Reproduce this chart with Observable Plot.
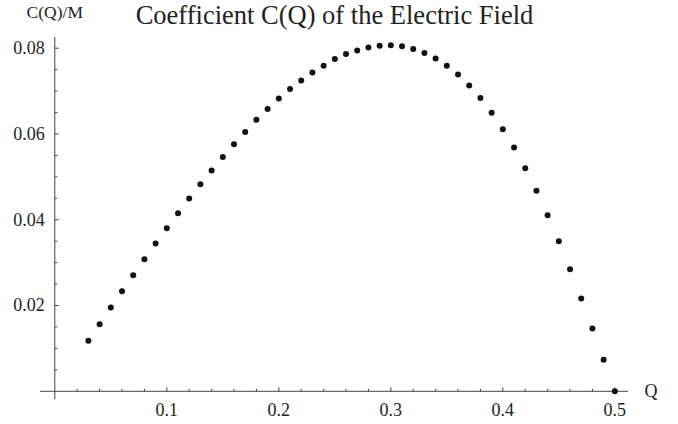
<!DOCTYPE html>
<html><head><meta charset="utf-8">
<script src="https://cdn.jsdelivr.net/npm/d3@7"></script>
<script src="https://cdn.jsdelivr.net/npm/@observablehq/plot@0.6"></script>
<style>
body{margin:0;background:#fff}
svg text{font-family:"Liberation Serif","Times New Roman",serif !important;font-variant:normal !important}
</style>
</head><body><div id="chart"></div>
<script>
const q = [0.03,0.04,0.05,0.06,0.07,0.08,0.09,0.10,0.11,0.12,0.13,0.14,0.15,0.16,0.17,0.18,0.19,0.20,0.21,0.22,0.23,0.24,0.25,0.26,0.27,0.28,0.29,0.30,0.31,0.32,0.33,0.34,0.35,0.36,0.37,0.38,0.39,0.40,0.41,0.42,0.43,0.44,0.45,0.46,0.47,0.48,0.49,0.50];
const c = [0.01177,0.01564,0.01953,0.02333,0.02707,0.03080,0.03445,0.03803,0.04152,0.04494,0.04828,0.05147,0.05466,0.05760,0.06049,0.06330,0.06580,0.06825,0.07051,0.07245,0.07431,0.07594,0.07750,0.07867,0.07944,0.08014,0.08060,0.08068,0.08044,0.07984,0.07890,0.07758,0.07594,0.07385,0.07128,0.06841,0.06495,0.06110,0.05683,0.05200,0.04674,0.04105,0.03499,0.02846,0.02163,0.01464,0.00734,0.00000];
const xMajor = [0.1,0.2,0.3,0.4,0.5];
const xMinor = [0.02,0.04,0.06,0.08,0.12,0.14,0.16,0.18,0.22,0.24,0.26,0.28,0.32,0.34,0.36,0.38,0.42,0.44,0.46,0.48];
const yMajor = [0.02,0.04,0.06,0.08];
const yMinor = [0.005,0.01,0.015,0.025,0.03,0.035,0.045,0.05,0.055,0.065,0.07,0.075];
const title = "Coefficient C(Q) of the Electric Field";
const yLabel = "C(Q)/M";
const xLabel = "Q";

const points = q.map((v, i) => ({q: v, c: c[i]}));
const seg = (dx, dy) => ({draw(ctx) { ctx.moveTo(0, 0); ctx.lineTo(dx, dy); }});
const axisColor = "#444";
const font = "Liberation Serif";
const txt = {fill: "#222", fontFamily: font};

const chart = Plot.plot({
  width: 678,
  height: 424,
  marginLeft: 40,
  marginRight: 50,
  marginTop: 37,
  marginBottom: 25,
  style: {fontFamily: font, background: "#fff", color: "#222"},
  x: {domain: [-0.01277, 0.5122], axis: null},
  y: {domain: [-0.00191, 0.0825], axis: null},
  marks: [
    Plot.ruleX([0], {stroke: axisColor, strokeWidth: 1}),
    Plot.ruleY([0], {stroke: axisColor, strokeWidth: 1}),
    Plot.dot(xMajor, {x: d => d, y: 0, symbol: seg(0, -4), fill: "none", stroke: axisColor, strokeWidth: 1}),
    Plot.dot(xMinor, {x: d => d, y: 0, symbol: seg(0, -2.5), fill: "none", stroke: axisColor, strokeWidth: 1}),
    Plot.dot(yMajor, {x: 0, y: d => d, symbol: seg(4, 0), fill: "none", stroke: axisColor, strokeWidth: 1}),
    Plot.dot(yMinor, {x: 0, y: d => d, symbol: seg(2.5, 0), fill: "none", stroke: axisColor, strokeWidth: 1}),
    Plot.text(xMajor, {x: d => d, y: 0, text: d => String(d), dy: 19, fontSize: 18, lineAnchor: "middle", ...txt}),
    Plot.text(yMajor, {x: 0, y: d => d, text: d => String(d), dx: -10, textAnchor: "end", fontSize: 18, lineAnchor: "middle", ...txt}),
    Plot.dot(points, {x: "q", y: "c", r: 3, fill: "#111", stroke: "none"}),
    Plot.text([title], {frameAnchor: "top", lineAnchor: "bottom", dy: -13.5, fontSize: 26.5, ...txt}),
    Plot.text([yLabel], {x: 0, frameAnchor: "top", lineAnchor: "bottom", dy: -19.5, fontSize: 17.5, ...txt}),
    Plot.text([xLabel], {y: 0, frameAnchor: "right", textAnchor: "start", dx: 16, fontSize: 18, lineAnchor: "middle", ...txt})
  ]
});
document.getElementById("chart").appendChild(chart);
</script>
</body></html>
